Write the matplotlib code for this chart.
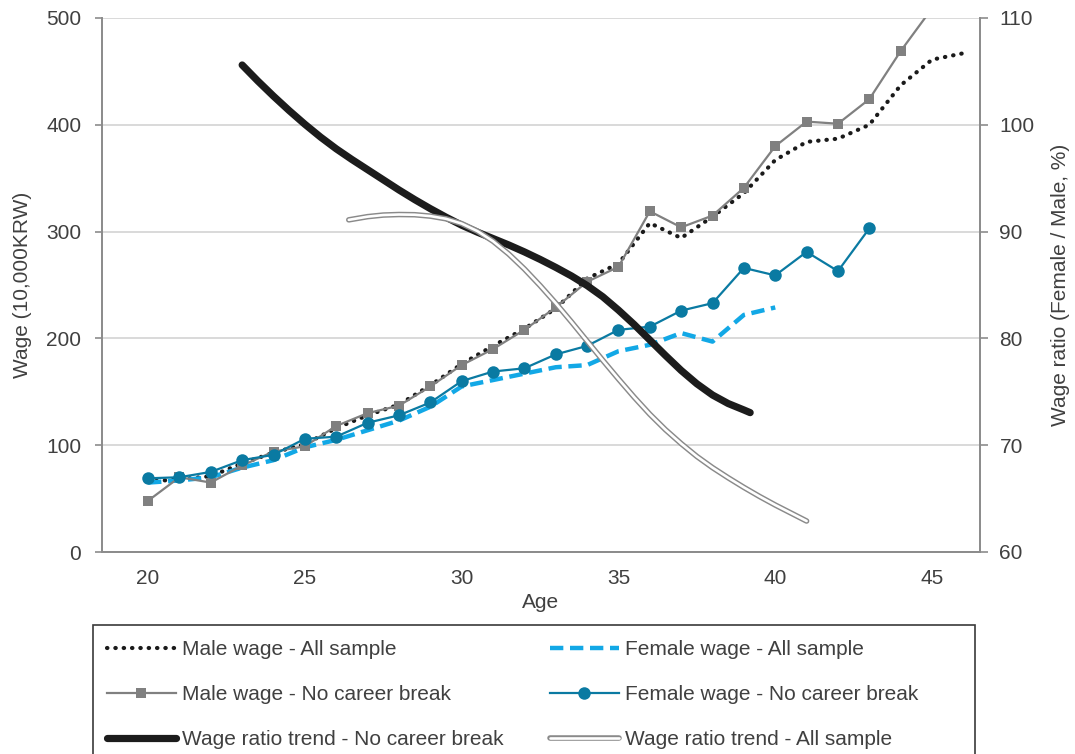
import matplotlib
matplotlib.use("Agg")
import matplotlib.pyplot as plt
from matplotlib.patches import Rectangle
from matplotlib.legend_handler import HandlerTuple

plt.rcParams['font.family'] = ['Liberation Sans', 'DejaVu Sans']

# wages (10,000 KRW) by age
male_all_age = list(range(20, 47))
male_all = [66, 68, 71, 83, 93, 101, 116, 128, 138, 156, 176, 193, 209, 228,
            256, 270, 308, 294, 314, 336, 367, 384, 387, 400, 437, 461, 467]

male_nb_age = list(range(20, 46))
male_nb = [48, 70, 65, 81, 94, 99, 118, 130, 137, 155, 175, 190, 208, 229,
           253, 267, 319, 304, 315, 341, 380, 403, 401, 424, 469, 509]

female_all_age = list(range(20, 41))
female_all = [65, 67, 70, 79, 86, 98, 105, 114, 123, 136, 155, 161, 167, 173,
              175, 188, 194, 205, 197, 222, 229]

female_nb_age = list(range(20, 44))
female_nb = [69, 70, 75, 86, 91, 106, 108, 121, 128, 140, 160, 169, 172, 185,
             193, 208, 211, 226, 233, 266, 259, 281, 263, 303]

# wage ratio trends (female / male, %), every half year
ratio_nb_age = [23.0, 23.5, 24.0, 24.5, 25.0, 25.5, 26.0, 26.5, 27.0, 27.5,
                28.0, 28.5, 29.0, 29.5, 30.0, 30.5, 31.0, 31.5, 32.0, 32.5,
                33.0, 33.5, 34.0, 34.5, 35.0, 35.5, 36.0, 36.5, 37.0, 37.5,
                38.0, 38.5, 39.0, 39.2]
ratio_nb = [105.6, 104.1, 102.68, 101.33, 100.05, 98.85, 97.75, 96.75, 95.8, 94.85,
            93.9, 93.0, 92.15, 91.35, 90.6, 89.95, 89.35, 88.75, 88.1, 87.4,
            86.65, 85.85, 84.95, 83.9, 82.65, 81.3, 79.85, 78.4, 77.0, 75.75,
            74.7, 73.9, 73.3, 73.05]

ratio_all_age = [26.4, 27.0, 27.5, 28.0, 28.5, 29.0, 29.5, 30.0, 30.5, 31.0,
                 31.5, 32.0, 32.5, 33.0, 33.5, 34.0, 34.5, 35.0, 35.5, 36.0,
                 36.5, 37.0, 37.5, 38.0, 38.5, 39.0, 39.5, 40.0, 40.5, 41.0]
ratio_all = [91.1, 91.4, 91.55, 91.6, 91.58, 91.45, 91.2, 90.75, 90.05, 89.1,
             87.9, 86.5, 84.95, 83.3, 81.55, 79.75, 77.95, 76.2, 74.5, 72.9,
             71.45, 70.15, 68.95, 67.9, 66.95, 66.05, 65.2, 64.4, 63.65, 62.9]

labels = ["Male wage - All sample", "Male wage - No career break",
          "Wage ratio trend - No career break", "Female wage - All sample",
          "Female wage - No career break", "Wage ratio trend - All sample"]

TXT = "#404040"
SPINE = "#8c8c8c"
GRAYLINE = "#808080"
TEAL = "#0a7aa2"
SKY = "#12a8e6"
FS = 15

fig = plt.figure(figsize=(10.75, 7.54), dpi=100)
ax = fig.add_axes([102 / 1075, 202 / 754, 878 / 1075, 534 / 754])
ax2 = ax.twinx()

ax.set_xlim(18.53, 46.53)
ax.set_ylim(0, 500)
ax2.set_ylim(60, 110)

ax.set_yticks([0, 100, 200, 300, 400, 500])
ax2.set_yticks([60, 70, 80, 90, 100, 110])
ax.set_xticks([20, 25, 30, 35, 40, 45])
ax.grid(axis='y', color='#d9d9d9', lw=1.4)
ax.set_axisbelow(True)

for a in (ax, ax2):
    for s in a.spines.values():
        s.set_color(SPINE)
        s.set_linewidth(1.3)
    a.spines['top'].set_visible(False)
ax.tick_params(axis='y', length=5, width=1.2, color=SPINE, labelsize=FS,
               labelcolor=TXT, pad=10)
ax.tick_params(axis='x', length=0, labelsize=FS, labelcolor=TXT, pad=12)
ax2.tick_params(axis='y', length=6, width=1.2, color=SPINE, labelsize=FS,
                labelcolor=TXT, pad=8)

ax.set_xlabel("Age", fontsize=FS, color=TXT, labelpad=4)
ax.set_ylabel("Wage (10,000KRW)", fontsize=FS, color=TXT, labelpad=10)
ax2.set_ylabel("Wage ratio (Female / Male, %)", fontsize=FS, color=TXT, labelpad=12)

# wage lines (left axis)
l_mall, = ax.plot(male_all_age, male_all, color='#1a1a1a', lw=3,
                  linestyle=(0, (0.1, 1.9)), dash_capstyle='round')
l_fall, = ax.plot(female_all_age, female_all, color=SKY, lw=3.2,
                  linestyle=(0, (3, 1.5)))
l_mnb, = ax.plot(male_nb_age, male_nb, color=GRAYLINE, lw=1.6, marker='s',
                 markersize=6.5, markeredgewidth=0)
l_fnb, = ax.plot(female_nb_age, female_nb, color=TEAL, lw=1.6, marker='o',
                 markersize=9, markeredgewidth=0)

# ratio trends (right axis)
r_nb, = ax2.plot(ratio_nb_age, ratio_nb, color='#1c1c1c', lw=5.2,
                 solid_capstyle='round', solid_joinstyle='round')
r_all_out, = ax2.plot(ratio_all_age, ratio_all, color='#8a8a8a', lw=4.0,
                      solid_capstyle='round', solid_joinstyle='round')
r_all_in, = ax2.plot(ratio_all_age, ratio_all, color='white', lw=1.9,
                     solid_capstyle='round', solid_joinstyle='round')

# legend: two columns placed separately, boxed by a rectangle
col1 = [l_mall, l_mnb, r_nb]
col2 = [l_fall, l_fnb, (r_all_out, r_all_in)]
common = dict(frameon=False, fontsize=FS, labelcolor=TXT, loc='upper left',
              handlelength=3.3, handletextpad=0.3, labelspacing=1.25,
              borderpad=0, borderaxespad=0,
              handler_map={tuple: HandlerTuple(ndivide=1)})
fig.legend(col1, labels[:3], bbox_to_anchor=(107 / 1075, 1 - 640 / 754), **common)
fig.legend(col2, labels[3:], bbox_to_anchor=(550 / 1075, 1 - 640 / 754), **common)
fig.patches.append(Rectangle((93 / 1075, -0.05), 882 / 1075, 0.05 + 129 / 754,
                             transform=fig.transFigure, fill=False,
                             edgecolor='#3a3a3a', lw=1.2))

fig.savefig("out.png", dpi=100)
